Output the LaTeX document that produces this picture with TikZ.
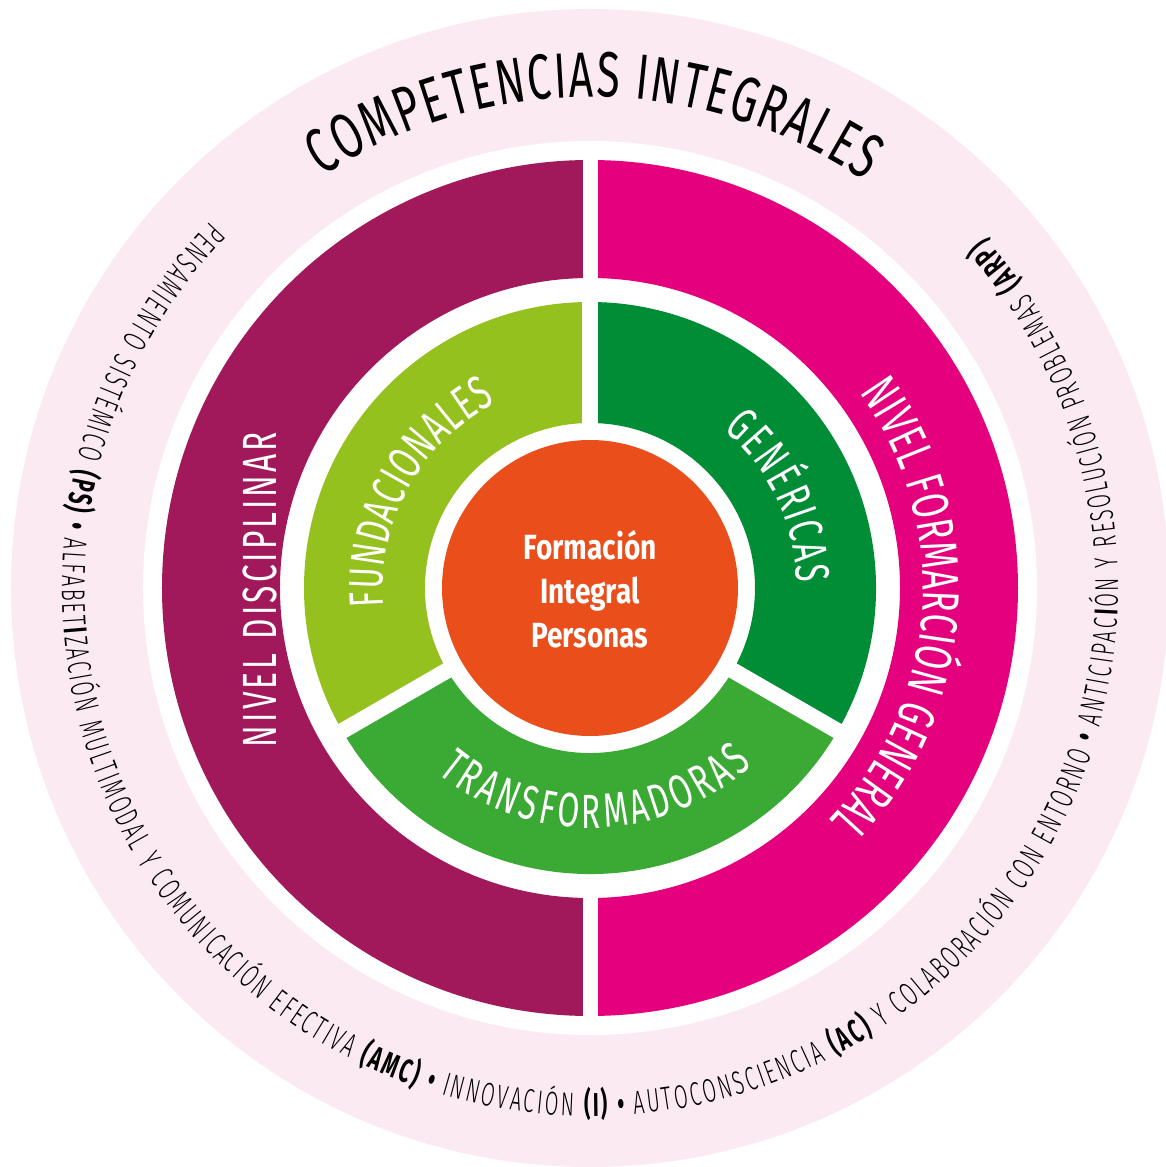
\documentclass[tikz,border=0pt]{standalone}
\usepackage{fontspec}
\usetikzlibrary{decorations.text}
\newfontfamily\thinfont[FakeStretch=0.6,UprightFont=* Light,BoldFont=* Bold]{Fira Sans}
\newfontfamily\labfont[FakeStretch=0.66]{Fira Sans}
\newfontfamily\corefont[FakeStretch=0.8]{Fira Sans}
\newcommand\ctitle{\labfont\fontsize{64}{64}\selectfont}
\newcommand\csmall{\thinfont\fontsize{33}{33}\selectfont}
\newcommand\csmallbf{\thinfont\bfseries\fontsize{33}{33}\selectfont}
\newcommand\clevel{\labfont\fontsize{48}{48}\selectfont}
\newcommand\clevelr{\labfont\fontsize{52}{52}\selectfont}
\newcommand\csector{\labfont\fontsize{48}{48}\selectfont}
\definecolor{pinkbg}{HTML}{FCEAF3}
\definecolor{discpurple}{HTML}{A2195B}
\definecolor{genmagenta}{HTML}{E5007E}
\definecolor{fundlime}{HTML}{95C11F}
\definecolor{generdark}{HTML}{008D36}
\definecolor{transgreen}{HTML}{3BAA35}
\definecolor{coreorange}{HTML}{E94E1B}
\tikzset{
  ringtext/.style={decorate,decoration={text along path,text align=fit to path,text color=#1}},
  corelabel/.style={text=white,align=center,font=\corefont\bfseries\fontsize{35}{44}\selectfont}
}
\begin{document}
\begin{tikzpicture}[x=1pt,y=1pt]
  \useasboundingbox (-590,-579) rectangle (576,588);
  \fill[pinkbg] (0,0) circle (579pt);
  \fill[white] (0,0) circle (447pt);
  % niveles
  \fill[discpurple] (90:428pt) arc[start angle=90,end angle=270,radius=428pt]
    -- (270:310pt) arc[start angle=270,end angle=90,radius=310pt] -- cycle;
  \fill[genmagenta] (-90:428pt) arc[start angle=-90,end angle=90,radius=428pt]
    -- (90:310pt) arc[start angle=90,end angle=-90,radius=310pt] -- cycle;
  \foreach \a in {90,270}
    \draw[white,line width=15pt] (\a:300pt) -- (\a:440pt);
  % competencias
  \foreach \a/\b/\c in {90/210/fundlime,210/330/transgreen,-30/90/generdark}
    \fill[\c] (\a:286pt) arc[start angle=\a,end angle=\b,radius=286pt]
      -- (\b:165pt) arc[start angle=\b,end angle=\a,radius=165pt] -- cycle;
  \foreach \a in {90,210,330}
    \draw[white,line width=16pt] (\a:155pt) -- (\a:296pt);
  \fill[coreorange] (0,0) circle (148pt);
  \node[corelabel] (core) at (0,-1) {Formación\\Integral\\Personas};

  \path[ringtext=black,decoration={text={|\ctitle|COMPETENCIAS INTEGRALES}}]
    (123:491pt) arc[start angle=123,end angle=56,radius=491pt];
  \path[ringtext=black,decoration={text={|\csmall|PENSAMIENTO SISTÉMICO |\csmallbf|(PS) • |\csmall|ALFABET|\csmallbf|I|\csmall|ZACIÓN MULTIMODAL Y COMUNICACIÓN EFECTIVA |\csmallbf|(AMC) • |\csmall|INNOVACIÓN |\csmallbf|(I) • |\csmall|AUTOCONSCIENCIA |\csmallbf|(AC)|\csmall| Y COLABORACIÓN CON ENTORNO |\csmallbf|• |\csmall|ANTICIPAC|\csmallbf|I|\csmall|ÓN Y RESOLUCIÓN PROBLEMAS |\csmallbf|(ARP)}}]
    (136:528pt) arc[start angle=136,end angle=401.5,radius=528pt];

  \path[ringtext=white,decoration={text={|\clevel|NIVEL DISCIPLINAR}}]
    (-313,-159) -- (-313,156);
  \path[ringtext=white,decoration={text={|\clevelr|NIVEL FORMARCIÓN GENERAL}}]
    (36:333pt) arc[start angle=36,end angle=-44,radius=333pt];

  \path[ringtext=white,decoration={text={|\csector|FUNDACIONALES}}]
    (185:207pt) arc[start angle=185,end angle=117,radius=207pt];
  \path[ringtext=white,decoration={text={|\csector|GENÉRICAS}}]
    (50:207pt) arc[start angle=50,end angle=1.5,radius=207pt];
  \path[ringtext=white,decoration={text={|\csector|TRANSFORMADORAS}}]
    (230.5:240pt) arc[start angle=230.5,end angle=312.5,radius=240pt];
\end{tikzpicture}
\end{document}
